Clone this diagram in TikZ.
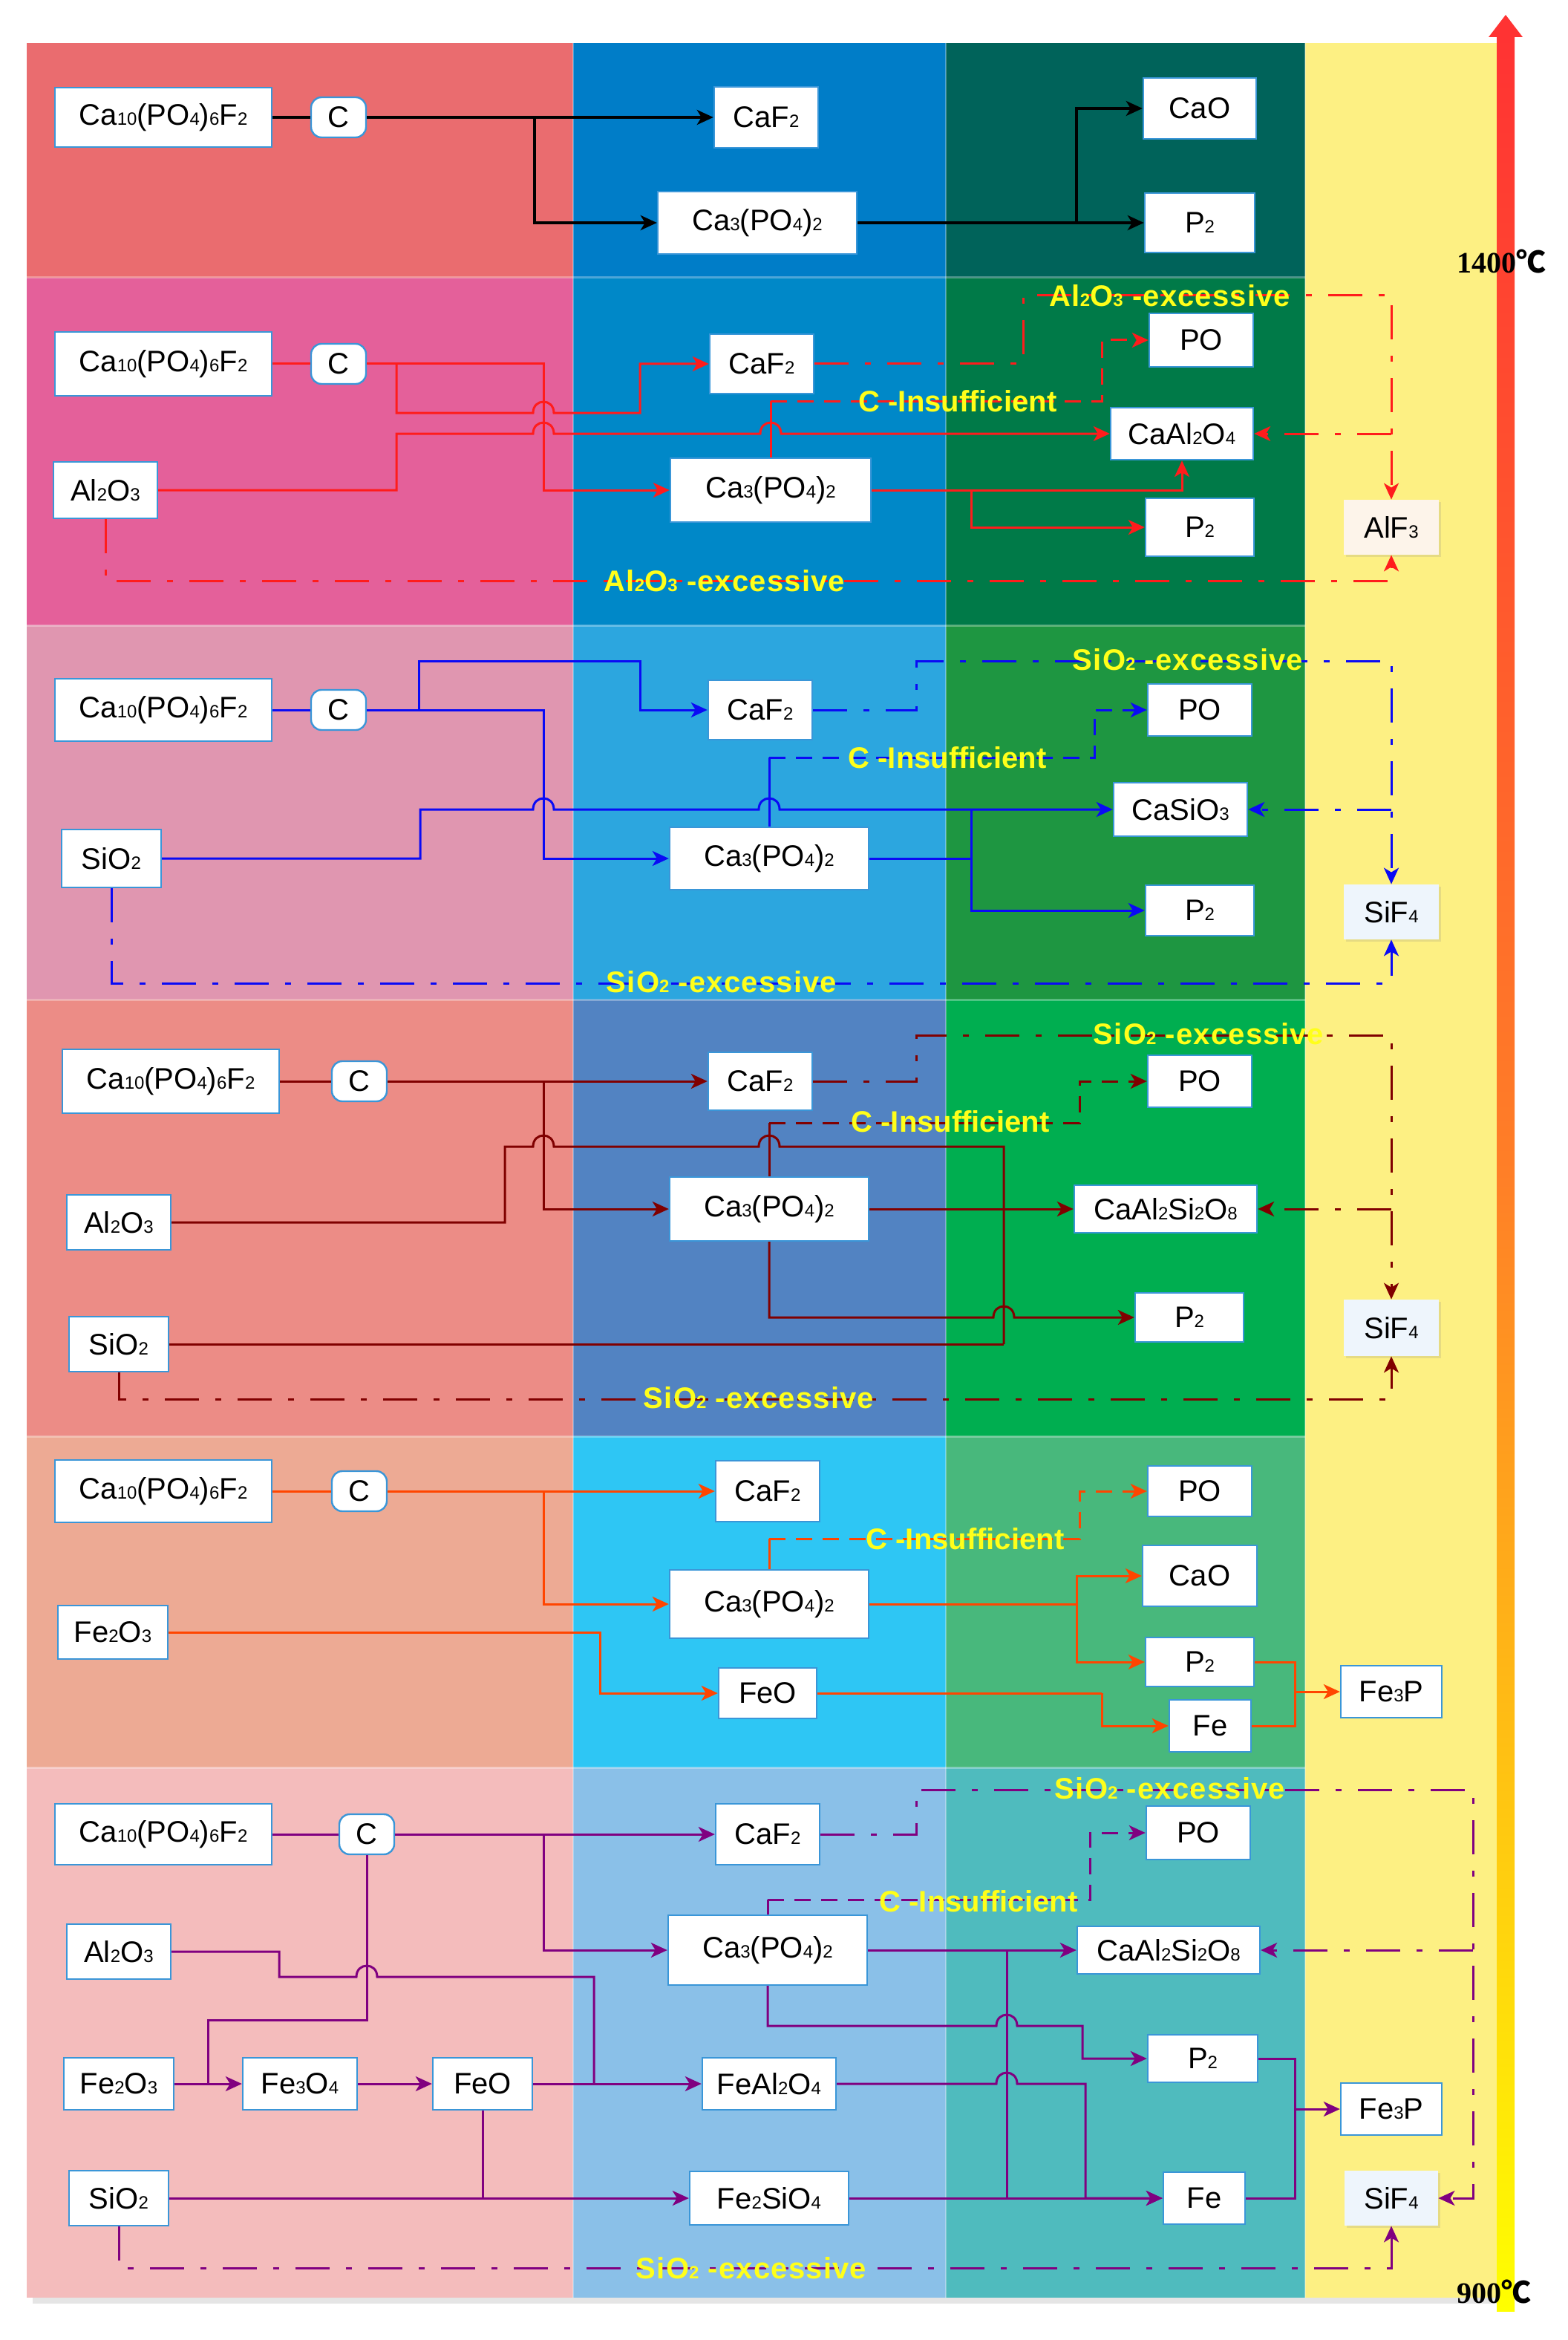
\documentclass[tikz,border=0pt]{standalone}
\usepackage{fontspec}
\setmainfont{Liberation Sans}
\newfontfamily\cjk{Noto Sans CJK SC}
\newfontfamily\tserif{Liberation Serif}
\newfontfamily\lblfont[LetterSpace=3]{Liberation Sans}
\usetikzlibrary{arrows.meta,shadows}
\definecolor{b1a}{HTML}{EA6C6F}\definecolor{b1b}{HTML}{007DC8}\definecolor{b1c}{HTML}{00635A}
\definecolor{b2a}{HTML}{E4609A}\definecolor{b2b}{HTML}{0088C8}\definecolor{b2c}{HTML}{007A48}
\definecolor{b3a}{HTML}{E096B0}\definecolor{b3b}{HTML}{2CA6DF}\definecolor{b3c}{HTML}{1E9641}
\definecolor{b4a}{HTML}{EC8C86}\definecolor{b4b}{HTML}{5283C2}\definecolor{b4c}{HTML}{00AE50}
\definecolor{b5a}{HTML}{EDAA94}\definecolor{b5b}{HTML}{2EC6F4}\definecolor{b5c}{HTML}{48B87C}
\definecolor{b6a}{HTML}{F4BCBC}\definecolor{b6b}{HTML}{8AC0E8}\definecolor{b6c}{HTML}{4FBBBE}
\definecolor{yel}{HTML}{FDF083}
\definecolor{boxblue}{HTML}{3A96D8}
\definecolor{labyel}{HTML}{FFFF1A}
\definecolor{gasA}{HTML}{FDF4EA}\definecolor{gasB}{HTML}{EEF5FC}
\definecolor{lred}{HTML}{FF1C1C}\definecolor{lblue}{HTML}{0A0AF5}
\definecolor{ldred}{HTML}{800000}\definecolor{lorange}{HTML}{FF4500}
\definecolor{lpurple}{HTML}{800080}
\definecolor{tred}{HTML}{FF3333}\definecolor{torange}{HTML}{FF7F27}\definecolor{tyel}{HTML}{FFFF00}
\newcommand\ssb[1]{{\fontsize{12}{12}\selectfont #1}}
\begin{document}
\begin{tikzpicture}[x=1pt,y=-1pt,
  box/.style={draw=boxblue,line width=1.2pt,fill=white,inner sep=0pt,font=\fontsize{20}{22}\selectfont,text=black},
  cbox/.style={box,rounded corners=7pt,minimum width=37pt,minimum height=27pt},
  gasbox/.style={inner sep=0pt,font=\fontsize{20}{22}\selectfont,drop shadow={shadow xshift=1.5pt,shadow yshift=-1.5pt,opacity=0.18}},
  ln/.style={line width=1.5pt},
  arw/.style={-{Stealth[length=11pt,width=10pt,inset=3pt]}},
  dd/.style={line width=1.5pt,dash pattern=on 23pt off 11pt on 4pt off 11pt},
  ds/.style={line width=1.5pt,dash pattern=on 11pt off 7pt},
  exlab/.style={inner sep=0pt,text=labyel,font=\lblfont\bfseries\fontsize{20}{22}\selectfont},
  cilab/.style={inner sep=0pt,text=labyel,font=\bfseries\fontsize{20}{22}\selectfont},
  temp/.style={inner sep=0pt,text=black,font=\fontsize{20}{22}\selectfont}]
\useasboundingbox (0,0) rectangle (1056,1575.5);
% shadow of panels
\fill[black!10] (22,33) rectangle (1012,1551);
% panels
\fill[b1a] (18,29) rectangle (386,187);\fill[b1b] (386,29) rectangle (637,187);\fill[b1c] (637,29) rectangle (879,187);
\fill[b2a] (18,187) rectangle (386,421);\fill[b2b] (386,187) rectangle (637,421);\fill[b2c] (637,187) rectangle (879,421);
\fill[b3a] (18,421) rectangle (386,673);\fill[b3b] (386,421) rectangle (637,673);\fill[b3c] (637,421) rectangle (879,673);
\fill[b4a] (18,673) rectangle (386,967);\fill[b4b] (386,673) rectangle (637,967);\fill[b4c] (637,673) rectangle (879,967);
\fill[b5a] (18,967) rectangle (386,1190);\fill[b5b] (386,967) rectangle (637,1190);\fill[b5c] (637,967) rectangle (879,1190);
\fill[b6a] (18,1190) rectangle (386,1547);\fill[b6b] (386,1190) rectangle (637,1547);\fill[b6c] (637,1190) rectangle (879,1547);
\fill[yel] (879,29) rectangle (1008,1547);
\foreach \yy in {187,421,673,967,1190}{\draw[white,opacity=0.3,line width=1.5pt] (18,\yy) -- (879,\yy);}
\draw[white,opacity=0.3,line width=1.2pt] (386,29) -- (386,1547) (637,29) -- (637,1547) (879,29) -- (879,1547);
% temperature arrow
\shade[top color=tred,bottom color=tyel,middle color=torange] (1008,24) rectangle (1020,1556);
\fill[tred] (1002.5,25) -- (1014,10) -- (1025.5,25) -- cycle;
\node[temp] (t1400) at (1011,176) {\tserif\bfseries 1400{\cjk ℃}};
\node[temp] (t900) at (1006,1543) {\tserif\bfseries 900{\cjk ℃}};

% ===== Band 1 =====
\node[box,minimum width=146pt,minimum height=40pt] (caA) at (110,79) {Ca\ssb{10}(PO\ssb{4})\ssb{6}F\ssb{2}};
\node[cbox] (cA) at (228,79) {C};
\node[box,minimum width=70pt,minimum height=41pt] (cafA) at (516,79) {CaF\ssb{2}};
\node[box,minimum width=134pt,minimum height=42pt] (capA) at (510,150) {Ca\ssb{3}(PO\ssb{4})\ssb{2}};
\node[box,minimum width=76pt,minimum height=41pt] (caoA) at (808,73) {CaO};
\node[box,minimum width=74pt,minimum height=40pt] (pA) at (808,150) {P\ssb{2}};
\draw[line width=1.8pt] (caA.east) -- (cA.west);
\draw[line width=1.8pt,arw] (cA.east) -- (cafA.west);
\draw[line width=1.8pt,arw] (360,79) |- (capA.west);
\draw[line width=1.8pt,arw] (capA.east) -- (pA.west);
\draw[line width=1.8pt,arw] (725,150) |- (caoA.west);

% ===== Band 2 =====
\node[box,minimum width=146pt,minimum height=43pt] (caB) at (110,245) {Ca\ssb{10}(PO\ssb{4})\ssb{6}F\ssb{2}};
\node[cbox] (cB) at (228,245) {C};
\node[box,minimum width=70pt,minimum height=38pt] (alB) at (71,330) {Al\ssb2O\ssb3};
\node[box,minimum width=70pt,minimum height=40pt] (cafB) at (513,245) {CaF\ssb2};
\node[box,minimum width=135pt,minimum height=43pt] (capB) at (519,330) {Ca\ssb{3}(PO\ssb{4})\ssb{2}};
\node[box,minimum width=70pt,minimum height=36pt] (poB) at (809,229) {PO};
\node[box,minimum width=96pt,minimum height=35pt] (caalB) at (796,292) {CaAl\ssb2O\ssb4};
\node[box,minimum width=73pt,minimum height=39pt] (p2B) at (808,355) {P\ssb2};
\node[gasbox,fill=gasA,minimum width=64pt,minimum height=37pt] (alfB) at (937,355) {AlF\ssb3};
\draw[ln,lred] (caB.east) -- (cB.west);
\draw[ln,lred,arw] (cB.east) -- (366,245) |- (capB.west);
\draw[ln,lred,arw] (267,245) -- (267,278) -- (359,278) .. controls (359,268) and (373,268) .. (373,278) -- (431,278) |- (cafB.west);
\draw[ln,lred,arw] (alB.east) -- (267,330) -- (267,292) -- (359,292) .. controls (359,282) and (373,282) .. (373,292) -- (512,292) .. controls (512,282) and (526,282) .. (526,292) -- (caalB.west);
\draw[ln,lred] (capB.north) -- (519,270);
\draw[ds,lred,arw] (519,270) -- (742,270) |- (poB.west);
\node[cilab] (ciB) at (645,270) {C -Insufficient};
\draw[dd,lred,arw] (cafB.east) -- (689,245) -- (689,199) -- (937,199) -- (alfB.north);
\draw[dd,lred,arw] (937,292) -- (caalB.east);
\node[exlab] (exB1) at (788,199) {Al\ssb2O\ssb3 -excessive};
\draw[dd,lred,arw] (alB.south) -- (71,391) -- (937,391) -- (alfB.south);
\node[exlab] (exB2) at (488,391) {Al\ssb2O\ssb3 -excessive};
\draw[ln,lred,arw] (capB.east) -| (caalB.south);
\draw[ln,lred,arw] (654,330) |- (p2B.west);

% ===== Band 3 =====
\node[box,minimum width=146pt,minimum height=42pt] (caC) at (110,478) {Ca\ssb{10}(PO\ssb{4})\ssb{6}F\ssb{2}};
\node[cbox] (cC) at (228,478) {C};
\node[box,minimum width=67pt,minimum height=39pt] (siC) at (75,578) {SiO\ssb2};
\node[box,minimum width=70pt,minimum height=40pt] (cafC) at (512,478) {CaF\ssb2};
\node[box,minimum width=134pt,minimum height=42pt] (capC) at (518,578) {Ca\ssb{3}(PO\ssb{4})\ssb{2}};
\node[box,minimum width=70pt,minimum height=35pt] (poC) at (808,478) {PO};
\node[box,minimum width=90pt,minimum height=36pt] (casiC) at (795,545) {CaSiO\ssb3};
\node[box,minimum width=73pt,minimum height=34pt] (p2C) at (808,613) {P\ssb2};
\node[gasbox,fill=gasB,minimum width=64pt,minimum height=37pt] (sifC) at (937,614) {SiF\ssb4};
\draw[ln,lblue] (caC.east) -- (cC.west);
\draw[ln,lblue,arw] (cC.east) -- (366,478) |- (capC.west);
\draw[ln,lblue,arw] (282,478) -- (282,445) -- (431,445) |- (cafC.west);
\draw[ln,lblue,arw] (siC.east) -- (283,578) -- (283,545) -- (359,545) .. controls (359,535) and (373,535) .. (373,545) -- (511,545) .. controls (511,535) and (525,535) .. (525,545) -- (casiC.west);
\draw[ln,lblue] (capC.north) -- (518,510);
\draw[ds,lblue,arw] (518,510) -- (737,510) |- (poC.west);
\node[cilab] (ciC) at (638,510) {C -Insufficient};
\draw[ln,lblue] (capC.east) -- (654,578);
\draw[ln,lblue,arw] (654,545) |- (p2C.west);
\draw[dd,lblue,arw] (cafC.east) -- (617,478) -- (617,445) -- (937,445) -- (sifC.north);
\draw[dd,lblue,arw] (937,545) -- (casiC.east);
\node[exlab] (exC1) at (800,444) {SiO\ssb2 -excessive};
\draw[dd,lblue,arw] (siC.south) -- (75,662) -- (937,662) -- (sifC.south);
\node[exlab] (exC2) at (486,661) {SiO\ssb2 -excessive};

% ===== Band 4 =====
\node[box,minimum width=146pt,minimum height=43pt] (caD) at (115,728) {Ca\ssb{10}(PO\ssb{4})\ssb{6}F\ssb{2}};
\node[cbox] (cD) at (242,728) {C};
\node[box,minimum width=70pt,minimum height=37pt] (alD) at (80,823) {Al\ssb2O\ssb3};
\node[box,minimum width=67pt,minimum height=37pt] (siD) at (80,905) {SiO\ssb2};
\node[box,minimum width=70pt,minimum height=39pt] (cafD) at (512,728) {CaF\ssb2};
\node[box,minimum width=134pt,minimum height=43pt] (capD) at (518,814) {Ca\ssb{3}(PO\ssb{4})\ssb{2}};
\node[box,minimum width=70pt,minimum height=35pt] (poD) at (808,728) {PO};
\node[box,minimum width=123pt,minimum height=32pt] (cassD) at (785,814) {CaAl\ssb2Si\ssb2O\ssb8};
\node[box,minimum width=73pt,minimum height=33pt] (p2D) at (801,887) {P\ssb2};
\node[gasbox,fill=gasB,minimum width=64pt,minimum height=38pt] (sifD) at (937,894) {SiF\ssb4};
\draw[ln,ldred] (caD.east) -- (cD.west);
\draw[ln,ldred,arw] (cD.east) -- (cafD.west);
\draw[ln,ldred,arw] (366,728) |- (capD.west);
\draw[ln,ldred] (alD.east) -- (340,823) -- (340,772) -- (359,772) .. controls (359,762) and (373,762) .. (373,772) -- (511,772) .. controls (511,762) and (525,762) .. (525,772) -- (676,772) -- (676,905);
\draw[ln,ldred] (siD.east) -- (676,905);
\draw[ln,ldred,arw] (capD.east) -- (cassD.west);
\draw[ln,ldred,arw] (capD.south) -- (518,887) -- (669,887) .. controls (669,877) and (683,877) .. (683,887) -- (p2D.west);
\draw[ln,ldred] (capD.north) -- (518,756);
\draw[ds,ldred,arw] (518,756) -- (727,756) |- (poD.west);
\node[cilab] (ciD) at (640,755) {C -Insufficient};
\draw[dd,ldred,arw] (cafD.east) -- (617,728) -- (617,697) -- (937,697) -- (sifD.north);
\draw[dd,ldred,arw] (937,814) -- (cassD.east);
\node[exlab] (exD1) at (814,696) {SiO\ssb2 -excessive};
\draw[dd,ldred,arw] (siD.south) -- (80,942) -- (937,942) -- (sifD.south);
\node[exlab] (exD2) at (511,941) {SiO\ssb2 -excessive};

% ===== Band 5 =====
\node[box,minimum width=146pt,minimum height=42pt] (caE) at (110,1004) {Ca\ssb{10}(PO\ssb{4})\ssb{6}F\ssb{2}};
\node[cbox] (cE) at (242,1004) {C};
\node[box,minimum width=74pt,minimum height=36pt] (feE) at (76,1099) {Fe\ssb2O\ssb3};
\node[box,minimum width=70pt,minimum height=41pt] (cafE) at (517,1004) {CaF\ssb2};
\node[box,minimum width=134pt,minimum height=46pt] (capE) at (518,1080) {Ca\ssb{3}(PO\ssb{4})\ssb{2}};
\node[box,minimum width=66pt,minimum height=34pt] (feoE) at (517,1140) {FeO};
\node[box,minimum width=70pt,minimum height=34pt] (poE) at (808,1004) {PO};
\node[box,minimum width=77pt,minimum height=41pt] (caoE) at (808,1061) {CaO};
\node[box,minimum width=73pt,minimum height=33pt] (p2E) at (808,1119) {P\ssb2};
\node[box,minimum width=55pt,minimum height=35pt] (fe2E) at (815,1162) {Fe};
\node[box,minimum width=68pt,minimum height=35pt] (fe3pE) at (937,1139) {Fe\ssb3P};
\draw[ln,lorange] (caE.east) -- (cE.west);
\draw[ln,lorange,arw] (cE.east) -- (cafE.west);
\draw[ln,lorange,arw] (366,1004) |- (capE.west);
\draw[ln,lorange,arw] (feE.east) -- (404,1099) |- (feoE.west);
\draw[ln,lorange] (capE.north) -- (518,1036);
\draw[ds,lorange,arw] (518,1036) -- (727,1036) |- (poE.west);
\node[cilab] (ciE) at (650,1036) {C -Insufficient};
\draw[ln,lorange] (capE.east) -- (725,1080);
\draw[ln,lorange,arw] (725,1080) |- (caoE.west);
\draw[ln,lorange,arw] (725,1080) |- (p2E.west);
\draw[ln,lorange] (feoE.east) -- (742,1140);
\draw[ln,lorange,arw] (742,1140) |- (fe2E.west);
\draw[ln,lorange] (p2E.east) -| (872,1162) -- (fe2E.east);
\draw[ln,lorange,arw] (872,1139) -- (fe3pE.west);

% ===== Band 6 =====
\node[box,minimum width=146pt,minimum height=41pt] (caF) at (110,1235) {Ca\ssb{10}(PO\ssb{4})\ssb{6}F\ssb{2}};
\node[cbox] (cF) at (247,1235) {C};
\node[box,minimum width=70pt,minimum height=37pt] (alF) at (80,1314) {Al\ssb2O\ssb3};
\node[box,minimum width=74pt,minimum height=35pt] (feF) at (80,1403) {Fe\ssb2O\ssb3};
\node[box,minimum width=77pt,minimum height=35pt] (fe3o4F) at (202,1403) {Fe\ssb3O\ssb4};
\node[box,minimum width=67pt,minimum height=35pt] (feoF) at (325,1403) {FeO};
\node[box,minimum width=67pt,minimum height=37pt] (siF) at (80,1480) {SiO\ssb2};
\node[box,minimum width=70pt,minimum height=41pt] (cafF) at (517,1235) {CaF\ssb2};
\node[box,minimum width=134pt,minimum height=47pt] (capF) at (517,1313) {Ca\ssb{3}(PO\ssb{4})\ssb{2}};
\node[box,minimum width=90pt,minimum height=35pt] (fealF) at (518,1403) {FeAl\ssb2O\ssb4};
\node[box,minimum width=107pt,minimum height=36pt] (fesiF) at (518,1480) {Fe\ssb2SiO\ssb4};
\node[box,minimum width=70pt,minimum height=36pt] (poF) at (807,1234) {PO};
\node[box,minimum width=123pt,minimum height=32pt] (cassF) at (787,1313) {CaAl\ssb2Si\ssb2O\ssb8};
\node[box,minimum width=74pt,minimum height=32pt] (p2F) at (810,1386) {P\ssb2};
\node[box,minimum width=55pt,minimum height=35pt] (fe2F) at (811,1480) {Fe};
\node[box,minimum width=68pt,minimum height=35pt] (fe3pF) at (937,1420) {Fe\ssb3P};
\node[gasbox,fill=gasB,minimum width=63pt,minimum height=37pt] (sifF) at (937,1480) {SiF\ssb4};
\draw[ln,lpurple] (caF.east) -- (cF.west);
\draw[ln,lpurple,arw] (cF.east) -- (cafF.west);
\draw[ln,lpurple,arw] (366,1235) |- (capF.west);
\draw[ln,lpurple] (cF.south) -- (247,1360) -- (140,1360) -- (140,1403);
\draw[ln,lpurple,arw] (feF.east) -- (fe3o4F.west);
\draw[ln,lpurple,arw] (fe3o4F.east) -- (feoF.west);
\draw[ln,lpurple,arw] (feoF.east) -- (fealF.west);
\draw[ln,lpurple] (alF.east) -- (188,1314) -- (188,1331) -- (240,1331) .. controls (240,1321) and (254,1321) .. (254,1331) -- (400,1331) -- (400,1403);
\draw[ln,lpurple] (feoF.south) -- (325,1480);
\draw[ln,lpurple,arw] (siF.east) -- (fesiF.west);
\draw[ln,lpurple,arw] (capF.east) -- (cassF.west);
\draw[ln,lpurple,arw] (capF.south) -- (517,1364) -- (671,1364) .. controls (671,1354) and (685,1354) .. (685,1364) -- (729,1364) |- (p2F.west);
\draw[ln,lpurple,arw] (fealF.east) -- (671,1403) .. controls (671,1393) and (685,1393) .. (685,1403) -- (731,1403) |- (fe2F.west);
\draw[ln,lpurple,arw] (fesiF.east) -- (fe2F.west);
\draw[ln,lpurple] (678,1480) -- (678,1313);
\draw[ln,lpurple] (p2F.east) -| (872,1480) -- (fe2F.east);
\draw[ln,lpurple,arw] (872,1420) -- (fe3pF.west);
\draw[ln,lpurple] (capF.north) -- (517,1279);
\draw[ds,lpurple,arw] (517,1279) -- (734,1279) |- (poF.west);
\node[cilab] (ciF) at (659,1280) {C -Insufficient};
\draw[dd,lpurple,arw] (cafF.east) -- (617,1235) -- (617,1205) -- (992,1205) -- (992,1480) -- (sifF.east);
\draw[dd,lpurple,arw] (992,1313) -- (cassF.east);
\node[exlab] (exF1) at (788,1204) {SiO\ssb2 -excessive};
\draw[dd,lpurple,arw] (siF.south) -- (80,1527) -- (937,1527) -- (sifF.south);
\node[exlab] (exF2) at (506,1527) {SiO\ssb2 -excessive};
\end{tikzpicture}
\end{document}
